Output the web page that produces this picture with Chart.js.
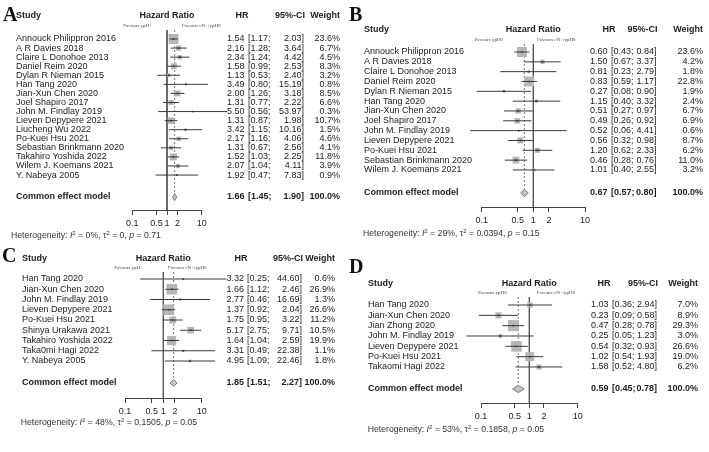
<!DOCTYPE html>
<html>
<head>
<meta charset="utf-8">
<title>Forest plots</title>
<script src="https://cdn.jsdelivr.net/npm/chart.js@4.4.1/dist/chart.umd.min.js"></script>
<style>
  body { margin: 0; background: #fff; }
  #page { position: relative; width: 709px; height: 452px; overflow: hidden; background: #fff; }
  #page canvas { position: absolute; }
  .tag { position: absolute; font: bold 20px/20px "Liberation Serif", "Times New Roman", serif; color: #111; }
</style>
</head>
<body>
<div id="page">
  <canvas id="chartA" width="355" height="245" style="left:0;top:0"></canvas>
  <canvas id="chartB" width="354" height="245" style="left:355px;top:0"></canvas>
  <canvas id="chartC" width="355" height="207" style="left:0;top:245px"></canvas>
  <canvas id="chartD" width="354" height="207" style="left:355px;top:245px"></canvas>
  <div class="tag" style="left:3px;top:4px">A</div>
  <div class="tag" style="left:349px;top:4px">B</div>
  <div class="tag" style="left:2px;top:245px">C</div>
  <div class="tag" style="left:349px;top:256px">D</div>
</div>
<script>
const xTicks = [0.1, 0.5, 1, 2, 10];
const headers = ['Study', 'Hazard Ratio', 'HR', '95%-CI', 'Weight'];
const pooledLabel = 'Common effect model';

// panel A
const studiesA = ['Annouck Philippron 2016', 'A R Davies 2018', 'Claire L Donohoe 2013', 'Daniel Reim 2020',
  'Dylan R Nieman 2015', 'Han Tang 2020', 'Jian-Xun Chen 2020', 'Joel Shapiro 2017', 'John M. Findlay 2019',
  'Lieven Depypere 2021', 'Liucheng Wu 2022', 'Po-Kuei Hsu 2021', 'Sebastian Brinkmann 2020',
  'Takahiro Yoshida 2022', 'Wilem J. Koemans 2021', 'Y. Nabeya 2005'];
const hrA = [1.54, 2.16, 2.34, 1.58, 1.13, 3.49, 2.00, 1.31, 5.50, 1.31, 3.42, 2.17, 1.31, 1.52, 2.07, 1.92];
const lowerA = [1.17, 1.28, 1.24, 0.99, 0.53, 0.80, 1.26, 0.77, 0.56, 0.87, 1.15, 1.16, 0.67, 1.03, 1.04, 0.47];
const upperA = [2.03, 3.64, 4.42, 2.53, 2.40, 15.19, 3.18, 2.22, 53.97, 1.98, 10.16, 4.06, 2.56, 2.25, 4.11, 7.83];
const weightA = [23.6, 6.7, 4.5, 8.3, 3.2, 0.8, 8.5, 6.6, 0.3, 10.7, 1.5, 4.6, 4.1, 11.8, 3.9, 0.9];
const pooledA = [1.66, 1.45, 1.90];
const hetA = ['0%', '0', '0.71'];
const favoursA = ['Favours ypH+', 'Favours cN+/ypH0'];

// panel B
const studiesB = ['Annouck Philippron 2016', 'A R Davies 2018', 'Claire L Donohoe 2013', 'Daniel Reim 2020',
  'Dylan R Nieman 2015', 'Han Tang 2020', 'Jian-Xun Chen 2020', 'Joel Shapiro 2017', 'John M. Findlay 2019',
  'Lieven Depypere 2021', 'Po-Kuei Hsu 2021', 'Sebastian Brinkmann 2020', 'Wilem J. Koemans 2021'];
const hrB = [0.60, 1.50, 0.81, 0.83, 0.27, 1.15, 0.51, 0.49, 0.52, 0.56, 1.20, 0.46, 1.01];
const lowerB = [0.43, 0.67, 0.23, 0.59, 0.08, 0.40, 0.27, 0.26, 0.06, 0.32, 0.62, 0.28, 0.40];
const upperB = [0.84, 3.37, 2.79, 1.17, 0.90, 3.32, 0.97, 0.92, 4.41, 0.98, 2.33, 0.76, 2.55];
const weightB = [23.6, 4.2, 1.8, 22.8, 1.9, 2.4, 6.7, 6.9, 0.6, 8.7, 6.2, 11.0, 3.2];
const pooledB = [0.67, 0.57, 0.80];
const hetB = ['29%', '0.0394', '0.15'];
const favoursB = ['Favours ypH0', 'Favours cN+/ypH0'];

// panel C
const studiesC = ['Han Tang 2020', 'Jian-Xun Chen 2020', 'John M. Findlay 2019', 'Lieven Depypere 2021',
  'Po-Kuei Hsu 2021', 'Shinya Urakawa 2021', 'Takahiro Yoshida 2022', 'Taka0mi Hagi 2022', 'Y. Nabeya 2005'];
const hrC = [3.32, 1.66, 2.77, 1.37, 1.75, 5.17, 1.64, 3.31, 4.95];
const lowerC = [0.25, 1.12, 0.46, 0.92, 0.95, 2.75, 1.04, 0.49, 1.09];
const upperC = [44.60, 2.46, 16.69, 2.04, 3.22, 9.71, 2.59, 22.38, 22.46];
const weightC = [0.6, 26.9, 1.3, 26.6, 11.2, 10.5, 19.9, 1.1, 1.8];
const pooledC = [1.85, 1.51, 2.27];
const hetC = ['48%', '0.1505', '0.05'];
const favoursC = ['Favours ypH+', 'Favours cN+/ypH0'];

// panel D
const studiesD = ['Han Tang 2020', 'Jian-Xun Chen 2020', 'Jian Zhong 2020', 'John M. Findlay 2019',
  'Lieven Depypere 2021', 'Po-Kuei Hsu 2021', 'Takaomi Hagi 2022'];
const hrD = [1.03, 0.23, 0.47, 0.25, 0.54, 1.02, 1.58];
const lowerD = [0.36, 0.09, 0.28, 0.05, 0.32, 0.54, 0.52];
const upperD = [2.94, 0.58, 0.78, 1.23, 0.93, 1.93, 4.80];
const weightD = [7.0, 8.9, 29.3, 3.0, 26.6, 19.0, 6.2];
const pooledD = [0.59, 0.45, 0.78];
const hetD = ['53%', '0.1858', '0.05'];
const favoursD = ['Favours ypH0', 'Favours cN+/ypH0'];

const SANS = '"Liberation Sans", Arial, sans-serif';
const REG = '9px ' + SANS;
const BOLD = 'bold 9px ' + SANS;
const FAV = '5px "Liberation Serif", serif';
const HET = '8.7px ' + SANS;
const HET_I = 'italic 8.7px ' + SANS;
const SUP = '6px ' + SANS;

function drawForest(id, d, lay) {
	const canvas = document.getElementById(id);
	const W = canvas.width, H = canvas.height;
	const rowOf = (py) => (py - lay.rowTop) / lay.pitch; // pixel -> row units
	const common = rowOf(lay.common);
	const yTop = rowOf(lay.lineTop), yBot = rowOf(lay.axis);
	const half = 3.6 / lay.pitch; // diamond half height
	const axisH = 30;

	const datasets = [];
	// reference line at HR = 1
	datasets.push({ type: 'line', showLine: true, data: [{ x: 1, y: yTop }, { x: 1, y: yBot }],
		borderColor: '#555', borderWidth: 1, pointRadius: 0, clip: false, order: 6 });
	// dashed line at pooled estimate
	datasets.push({ type: 'line', showLine: true, data: [{ x: d.pooled[0], y: yTop }, { x: d.pooled[0], y: common - half }],
		borderColor: '#777', borderWidth: 1, borderDash: [2, 2], pointRadius: 0, clip: false, order: 6 });
	// weight boxes
	datasets.push({ type: 'scatter', data: d.hr.map((v, i) => ({ x: v, y: i })),
		pointStyle: 'rect', pointRadius: d.weight.map(w => 1.45 * Math.sqrt(w)),
		backgroundColor: '#b6b6b6', borderWidth: 0, clip: false, order: 5 });
	// confidence intervals
	d.hr.forEach((v, i) => {
		datasets.push({ type: 'line', showLine: true, data: [{ x: d.lower[i], y: i }, { x: d.upper[i], y: i }],
			borderColor: '#3a3a3a', borderWidth: 1, pointRadius: 0, clip: false, order: 4 });
	});
	// point estimates
	datasets.push({ type: 'scatter', data: d.hr.map((v, i) => ({ x: v, y: i })),
		pointStyle: 'rect', pointRadius: 1.1, backgroundColor: '#333', borderWidth: 0, clip: false, order: 3 });
	// diamond (upper half, then lower half filled to it)
	datasets.push({ type: 'line', showLine: true,
		data: [{ x: d.pooled[1], y: common }, { x: d.pooled[0], y: common - half }, { x: d.pooled[2], y: common }],
		borderColor: '#7a7a7a', borderWidth: 1, pointRadius: 0, fill: false, clip: false, order: 2 });
	datasets.push({ type: 'line', showLine: true,
		data: [{ x: d.pooled[1], y: common }, { x: d.pooled[0], y: common + half }, { x: d.pooled[2], y: common }],
		borderColor: '#7a7a7a', borderWidth: 1, pointRadius: 0, fill: '-1', backgroundColor: '#c4c4c4', clip: false, order: 2 });

	const textPlugin = {
		id: 'forestText',
		afterDraw(chart) {
			const { ctx, chartArea, scales } = chart;
			const yAt = (r) => scales.y.getPixelForValue(r);
			const put = (txt, x, r, align, font) => {
				ctx.font = font;
				ctx.textAlign = align;
				ctx.fillText(txt, x, yAt(r));
			};
			ctx.save();
			ctx.textBaseline = 'middle';
			ctx.fillStyle = '#1c1c1c';

			const hRow = rowOf(lay.header), fRow = rowOf(lay.fav);
			put(headers[0], lay.name, hRow, 'left', BOLD);
			put(headers[1], (chartArea.left + chartArea.right) / 2, hRow, 'center', BOLD);
			put(headers[2], lay.hrHead, hRow, 'center', BOLD);
			put(headers[3], lay.ciR + 1, hRow, 'right', BOLD);
			put(headers[4], lay.wt, hRow, 'right', BOLD);

			ctx.fillStyle = '#444';
			put(d.favours[0], lay.favL, fRow, 'right', FAV);
			put(d.favours[1], lay.favR, fRow, 'left', FAV);

			ctx.fillStyle = '#1c1c1c';
			const row = (name, hr, lo, hi, wt, r, font) => {
				put(name, lay.name, r, 'left', font);
				put(hr.toFixed(2), lay.hr, r, 'left', font);
				put('[' + lo.toFixed(2) + ';', lay.ciL, r, 'left', font);
				put(hi.toFixed(2) + ']', lay.ciR, r, 'right', font);
				put(wt.toFixed(1) + '%', lay.wt, r, 'right', font);
			};
			d.studies.forEach((s, i) => row(s, d.hr[i], d.lower[i], d.upper[i], d.weight[i], i, REG));
			row(pooledLabel, d.pooled[0], d.pooled[1], d.pooled[2], 100, common, BOLD);

			// heterogeneity line
			ctx.fillStyle = '#333';
			ctx.textAlign = 'left';
			let x = lay.het;
			const yy = yAt(rowOf(lay.hetY));
			const segs = [['Heterogeneity: ', HET], ['I', HET_I], ['2', SUP, -3],
				[' = ' + d.het[0] + ', ', HET], ['\u03c4', HET], ['2', SUP, -3],
				[' = ' + d.het[1] + ', ', HET], ['p', HET_I], [' = ' + d.het[2], HET]];
			segs.forEach(([t, f, dy]) => {
				ctx.font = f;
				ctx.fillText(t, x, yy + (dy || 0));
				x += ctx.measureText(t).width;
			});
			ctx.restore();
		}
	};

	return new Chart(canvas, {
		type: 'scatter',
		data: { datasets },
		options: {
			responsive: false,
			animation: false,
			layout: {
				padding: { left: lay.x0, right: W - lay.x1, top: lay.lineTop, bottom: H - lay.axis - axisH }
			},
			scales: {
				x: {
					type: 'logarithmic',
					min: 0.1,
					max: 10,
					afterBuildTicks: (axis) => { axis.ticks = xTicks.map(v => ({ value: v })); },
					afterFit: (axis) => { axis.height = axisH; },
					grid: { drawOnChartArea: false, drawTicks: true, tickLength: 5, color: '#444', lineWidth: 1 },
					border: { display: true, color: '#444', width: 1 },
					ticks: {
						autoSkip: false, maxRotation: 0, padding: 3, color: '#222',
						font: { family: 'Liberation Sans', size: 9 },
						callback: (v) => String(v)
					}
				},
				y: { type: 'linear', reverse: true, min: yTop, max: yBot, display: false }
			},
			plugins: { legend: { display: false }, tooltip: { enabled: false } }
		},
		plugins: [textPlugin]
	});
}

drawForest('chartA',
	{ studies: studiesA, hr: hrA, lower: lowerA, upper: upperA, weight: weightA, pooled: pooledA, het: hetA, favours: favoursA },
	{ rowTop: 39, pitch: 9.07, header: 16, fav: 26, lineTop: 30, common: 197, axis: 210, hetY: 236,
	  x0: 132.3, x1: 201.7, name: 16, hr: 227, hrHead: 242, ciL: 248, ciR: 304, wt: 340, favL: 152, favR: 182, het: 11 });
drawForest('chartB',
	{ studies: studiesB, hr: hrB, lower: lowerB, upper: upperB, weight: weightB, pooled: pooledB, het: hetB, favours: favoursB },
	{ rowTop: 52, pitch: 9.83, header: 30, fav: 40, lineTop: 44, common: 193, axis: 207, hetY: 234,
	  x0: 126.7, x1: 230, name: 9, hr: 235, hrHead: 254, ciL: 256, ciR: 301.5, wt: 348, favL: 148, favR: 182, het: 8 });
drawForest('chartC',
	{ studies: studiesC, hr: hrC, lower: lowerC, upper: upperC, weight: weightC, pooled: pooledC, het: hetC, favours: favoursC },
	{ rowTop: 34, pitch: 10.25, header: 14, fav: 23, lineTop: 27, common: 138, axis: 153, hetY: 178,
	  x0: 125, x1: 201.7, name: 22, hr: 226.5, hrHead: 241, ciL: 247, ciR: 302, wt: 335, favL: 143, favR: 168, het: 20.7 });
drawForest('chartD',
	{ studies: studiesD, hr: hrD, lower: lowerD, upper: upperD, weight: weightD, pooled: pooledD, het: hetD, favours: favoursD },
	{ rowTop: 60, pitch: 10.33, header: 39, fav: 48, lineTop: 52, common: 144, axis: 158, hetY: 185,
	  x0: 126, x1: 222.7, name: 13, hr: 236, hrHead: 249, ciL: 257, ciR: 302, wt: 343, favL: 151.7, favR: 181.7, het: 12.7 });
</script>
</body>
</html>
